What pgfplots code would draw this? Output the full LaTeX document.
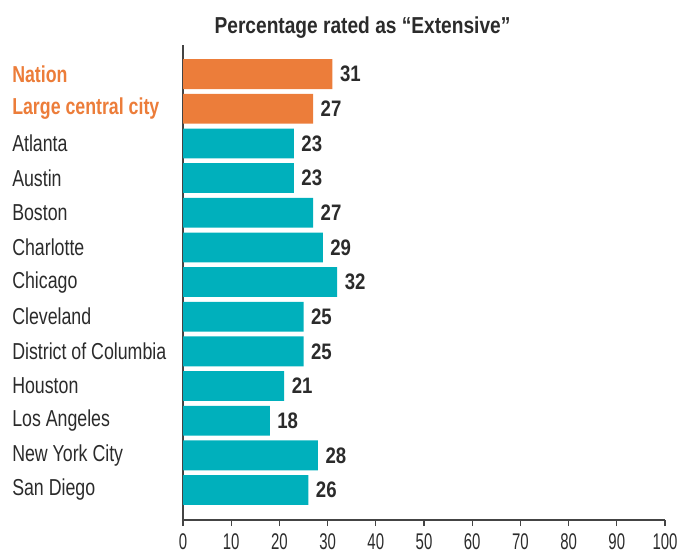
\documentclass[border=0pt]{standalone}
\usepackage{fontspec}
\setmainfont[FakeStretch=0.77]{Liberation Sans}
\newfontfamily\valfont[FakeStretch=0.83]{Liberation Sans}
\newfontfamily\tickfont[FakeStretch=0.66]{Liberation Sans}
\newfontfamily\titlefont[FakeStretch=0.83]{Liberation Sans}
\usepackage{pgfplots}
\pgfplotsset{compat=1.18}
\definecolor{orangeC}{HTML}{EC7D3A}
\definecolor{tealC}{HTML}{00B0BC}
\definecolor{txt}{HTML}{2B2B2B}
\definecolor{axc}{HTML}{444444}
\begin{document}
\begin{tikzpicture}
\path[use as bounding box] (0,0) rectangle (510pt,415.5pt);
\node[font=\fontsize{17.3}{20}\titlefont\bfseries, text=txt, inner sep=0pt, anchor=base] at (271.9pt,390pt) {Percentage rated as “Extensive”};
\begin{axis}[
  at={(137.25pt,25.5pt)}, anchor=south west,
  scale only axis, width=361.5pt, height=356.25pt,
  xbar, bar shift=0pt, bar width=0.86,
  xmin=0, xmax=100, ymin=-0.84, ymax=12.865, y dir=reverse,
  axis x line*=bottom, axis y line*=left,
  x axis line style={draw=axc, line width=0.8pt, -},
  y axis line style={draw=axc, line width=1pt, -},
  xtick={0,10,...,100}, xtick align=outside, major tick length=4.5pt,
  xtick style={draw=axc, line width=0.8pt},
  ytick={0,...,12}, ytick style={draw=none},
  yticklabels={{\textcolor{orangeC}{\bfseries Nation}},{\textcolor{orangeC}{\bfseries Large central city}},Atlanta,Austin,Boston,Charlotte,Chicago,Cleveland,District of Columbia,Houston,Los Angeles,New York City,San Diego},
  yticklabel style={anchor=west, inner sep=0pt, xshift=-123.75pt, text=txt, font=\fontsize{17.3}{20}\selectfont},
  xticklabel style={text=txt, font=\fontsize{17}{20}\tickfont, yshift=-2.5pt},
  /pgf/number format/assume math mode=true,
  nodes near coords, point meta=x,
  nodes near coords style={anchor=west, inner sep=0pt, xshift=5.5pt, text=txt, font=\fontsize{16.8}{20}\valfont\bfseries},
  clip=false,
]
\addplot[fill=orangeC, draw=none] coordinates {(31,0) (27,1)};
\addplot[fill=tealC, draw=none] coordinates {(23,2) (23,3) (27,4) (29,5) (32,6) (25,7) (25,8) (21,9) (18,10) (28,11) (26,12)};
\end{axis}
\end{tikzpicture}
\end{document}
